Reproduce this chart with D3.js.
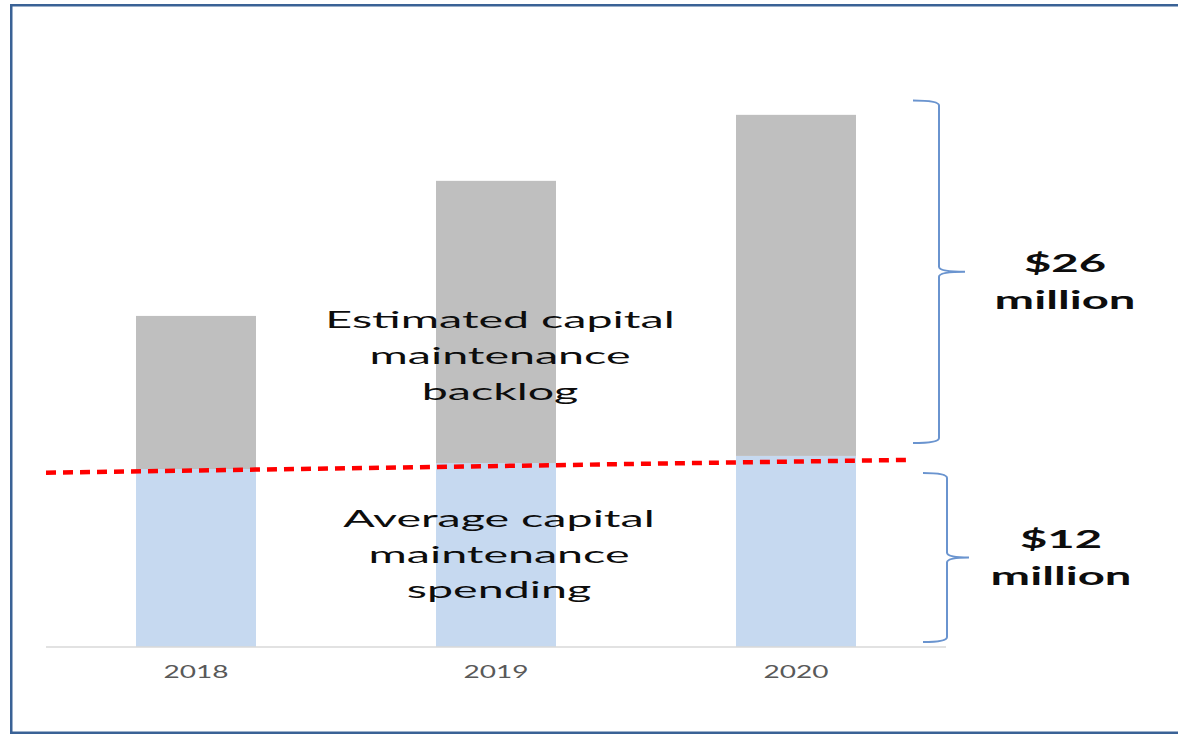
<!DOCTYPE html>
<html>
<head>
<meta charset="utf-8">
<script src="https://cdn.jsdelivr.net/npm/d3@7"></script>
<style>
  body { margin: 0; background: #fff; }
</style>
</head>
<body>
<div id="chart"></div>
<script>
// values (millions, approx.)
const years = ["2018", "2019", "2020"];
const spending = [11.57, 11.96, 12.42];
const backlog = [9.95, 18.34, 22.17];

// red dotted spending level: position in bar units, value
const trendPos = [-0.5, 2.37];
const trendValue = [11.33, 12.16];

// braces (value ranges) and their labels
const backlogBrace = [13.26, 35.52];
const spendingBrace = [0.33, 11.31];
const backlogTotal = ["$26", "million"];
const spendingTotal = ["$12", "million"];

const backlogText = ["Estimated capital", "maintenance", "backlog"];
const spendingText = ["Average capital", "maintenance", "spending"];

const width = 1178, height = 734;
const baseY = 647;

const svg = d3.select("#chart").append("svg")
    .attr("width", width)
    .attr("height", height);

// frame
svg.append("rect")
    .attr("x", 11.25).attr("y", 5.25)
    .attr("width", 1200).attr("height", 727.5)
    .attr("fill", "none")
    .attr("stroke", "#3a6296")
    .attr("stroke-width", 2.5);

const x = d3.scaleBand()
    .domain(years)
    .range([46, 946])
    .paddingInner(0.6)
    .paddingOuter(0.3);

const y = d3.scaleLinear()
    .domain([0, 39])
    .range([baseY, 47]);

const rows = years.map((yr, i) => ({ year: yr, spend: spending[i], back: backlog[i] }));

// bars
const g = svg.append("g");
g.selectAll(".spend")
  .data(rows)
  .join("rect")
    .attr("class", "spend")
    .attr("x", d => x(d.year))
    .attr("width", x.bandwidth())
    .attr("y", d => y(d.spend))
    .attr("height", d => y(0) - y(d.spend))
    .attr("fill", "#c6d9f0");

g.selectAll(".back")
  .data(rows)
  .join("rect")
    .attr("class", "back")
    .attr("x", d => x(d.year))
    .attr("width", x.bandwidth())
    .attr("y", d => y(d.spend + d.back))
    .attr("height", d => y(d.spend) - y(d.spend + d.back))
    .attr("fill", "#bfbfbf");

// axis
const xAxis = d3.axisBottom(x).tickSize(0).tickPadding(0);
svg.append("g")
    .attr("transform", `translate(0,${baseY})`)
    .call(xAxis)
    .call(a => a.select(".domain").attr("stroke", "#d9d9d9").attr("stroke-width", 1.5)
        .attr("d", `M${x.range()[0]},0H${x.range()[1]}`))
    .call(a => a.selectAll("text").remove());

// tick labels, stretched like the picture
svg.append("g").selectAll("text")
  .data(years)
  .join("text")
    .attr("transform", d => `translate(${x(d) + x.bandwidth() / 2},678) scale(1.7,1)`)
    .attr("text-anchor", "middle")
    .attr("font-family", "Lato")
    .attr("font-size", 16.5)
    .attr("fill", "#595959")
    .text(d => d);

// red dotted line
const pos = d3.scaleLinear()
    .domain([0, 2])
    .range([x(years[0]) + x.bandwidth() / 2, x(years[2]) + x.bandwidth() / 2]);

svg.append("path")
    .datum(trendPos.map((p, i) => [p, trendValue[i]]))
    .attr("fill", "none")
    .attr("stroke", "#ff0000")
    .attr("stroke-width", 4.5)
    .attr("stroke-dasharray", "10,7")
    .attr("d", d3.line().x(d => pos(d[0])).y(d => y(d[1])));

// braces
function brace(range, tipX, lineX, pointX) {
  const top = y(range[1]), bot = y(range[0]), mid = (top + bot) / 2, r = 5;
  return `M${tipX},${top} Q${lineX},${top} ${lineX},${top + r}` +
         ` L${lineX},${mid - r} Q${lineX},${mid} ${pointX},${mid}` +
         ` Q${lineX},${mid} ${lineX},${mid + r}` +
         ` L${lineX},${bot - r} Q${lineX},${bot} ${tipX},${bot}`;
}

svg.append("path")
    .attr("d", brace(backlogBrace, 913, 939, 965))
    .attr("fill", "none").attr("stroke", "#6a94cf").attr("stroke-width", 2);
svg.append("path")
    .attr("d", brace(spendingBrace, 923, 947, 969))
    .attr("fill", "none").attr("stroke", "#6a94cf").attr("stroke-width", 2);

// text blocks
function block(lines, cx, y0, step, opts) {
  svg.append("g").selectAll("text")
    .data(lines)
    .join("text")
      .attr("transform", (d, i) => `translate(${cx},${y0 + i * step}) scale(${opts.sx},1)`)
      .attr("text-anchor", "middle")
      .attr("font-family", "Lato")
      .attr("font-size", opts.size)
      .attr("font-weight", opts.weight)
      .attr("fill", "#0d0d0d")
      .text(d => d);
}

block(backlogText, 500, 328, 36, { sx: 2.0, size: 23.3, weight: "normal" });
block(spendingText, 499, 527, 35.5, { sx: 2.0, size: 23.3, weight: "normal" });
block(backlogTotal, 1065, 272, 37, { sx: 1.97, size: 24, weight: "bold" });
block(spendingTotal, 1061, 548, 37, { sx: 1.97, size: 24, weight: "bold" });
</script>
</body>
</html>
